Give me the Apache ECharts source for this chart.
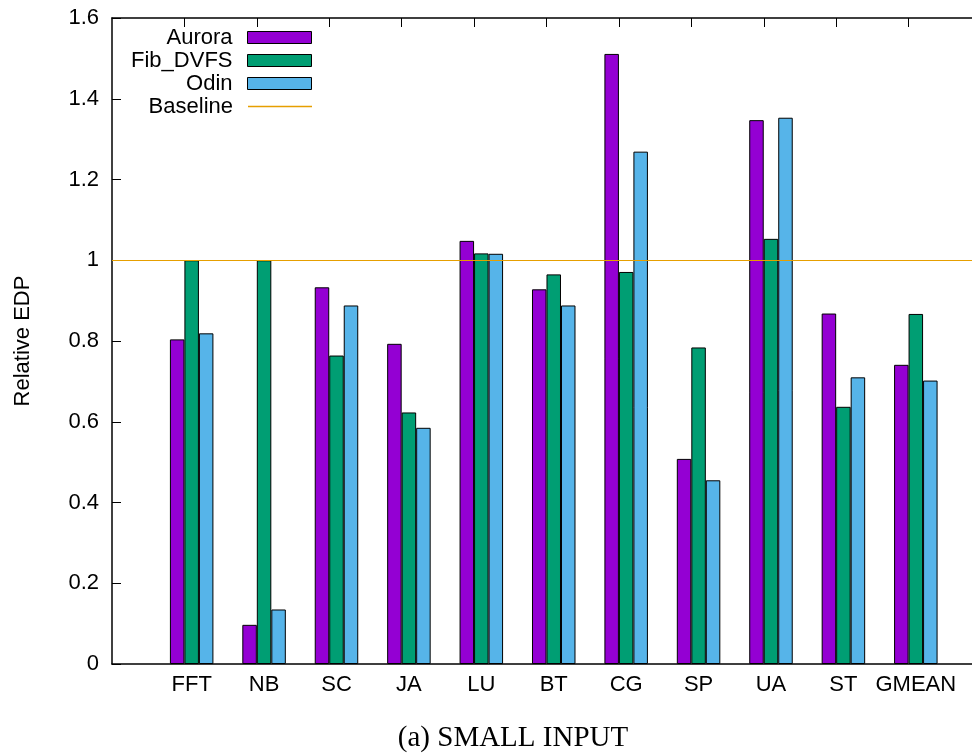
<!DOCTYPE html>
<html>
<head>
<meta charset="utf-8">
<script src="https://cdn.jsdelivr.net/npm/echarts@6/dist/echarts.min.js"></script>
<style>
html,body{margin:0;padding:0;background:#fff;}
#chart{width:972px;height:755px;}
</style>
</head>
<body>
<div id="chart"></div>
<script>
const categories = ['FFT', 'NB', 'SC', 'JA', 'LU', 'BT', 'CG', 'SP', 'UA', 'ST', 'GMEAN'];
const aurora   = [0.804, 0.097, 0.933, 0.793, 1.048, 0.928, 1.511, 0.508, 1.347, 0.868, 0.741];
const fibDvfs  = [1.000, 1.000, 0.764, 0.623, 1.017, 0.965, 0.971, 0.784, 1.053, 0.637, 0.867];
const odin     = [0.819, 0.135, 0.888, 0.585, 1.016, 0.888, 1.269, 0.455, 1.353, 0.710, 0.702];
const baselineValue = 1;
const yTicks = [0, 0.2, 0.4, 0.6, 0.8, 1, 1.2, 1.4, 1.6];

const FONT = '"Liberation Sans", Arial, Helvetica, sans-serif';
const catIdx = categories.map((c, i) => i);
const tickPos = categories.map((c, i) => i - 0.1);
const toPairs = arr => arr.map((v, i) => [i, v]);

const chart = echarts.init(document.getElementById('chart'), null, {renderer: 'canvas'});

const barBase = {
  type: 'bar',
  xAxisIndex: 0,
  yAxisIndex: 0,
  barWidth: 14.5,
  barGap: '0%'
};

function legendFor(name, top, isLine) {
  return {
    data: [name],
    right: 660,
    top: top,
    orient: 'vertical',
    align: 'right',
    padding: 0,
    icon: 'rect',
    itemWidth: 64,
    itemHeight: isLine ? 1.6 : 12,
    selectedMode: false,
    textStyle: {fontFamily: FONT, fontSize: 22, color: '#000', padding: [0, 10, 0, 0], lineHeight: 22},
    itemStyle: isLine ? {color: '#e69f00', borderWidth: 0} : {borderColor: '#000', borderWidth: 1}
  };
}

const option = {
  animation: false,
  backgroundColor: '#fff',
  title: {
    text: '(a) SMALL INPUT',
    left: 508,
    top: 719,
    textAlign: 'center',
    textStyle: {fontFamily: '"Liberation Serif", "Times New Roman", serif', fontSize: 29, fontWeight: 'normal', color: '#000'}
  },
  legend: [
    legendFor('Aurora', 26.5, false),
    legendFor('Fib_DVFS', 49.5, false),
    legendFor('Odin', 72.5, false),
    legendFor('Baseline', 95.5, true)
  ],
  grid: {left: 112, top: 18, width: 869, height: 646, containLabel: false, outerBoundsMode: 'none'},
  xAxis: [
    {
      type: 'value',
      position: 'bottom',
      min: -1.1,
      max: 10.9,
      axisLine: {show: true, onZero: false, lineStyle: {color: '#000', width: 1.5}},
      axisTick: {show: false},
      splitLine: {show: false},
      axisLabel: {
        customValues: catIdx,
        formatter: v => categories[Math.round(v)] || '',
        fontFamily: FONT, fontSize: 22, color: '#000', margin: 10
      }
    },
    {
      type: 'value',
      position: 'top',
      min: -1.1,
      max: 10.9,
      axisLine: {show: true, onZero: false, lineStyle: {color: '#000', width: 1.5}},
      axisTick: {show: true, inside: true, length: 9, customValues: tickPos, lineStyle: {color: '#000', width: 1}},
      axisLabel: {show: false},
      splitLine: {show: false}
    }
  ],
  yAxis: {
    type: 'value',
    position: 'left',
    min: yTicks[0],
    max: yTicks[yTicks.length - 1],
    interval: 0.2,
    name: 'Relative EDP',
    nameLocation: 'middle',
    nameGap: 78,
    nameTextStyle: {fontFamily: FONT, fontSize: 22, color: '#000'},
    axisLine: {show: true, onZero: false, lineStyle: {color: '#000', width: 1.5}},
    axisTick: {show: true, inside: true, length: 9, lineStyle: {color: '#000', width: 1}},
    axisLabel: {fontFamily: FONT, fontSize: 22, color: '#000', margin: 13},
    splitLine: {show: false}
  },
  series: [
    Object.assign({}, barBase, {name: 'Aurora', data: toPairs(aurora), itemStyle: {color: '#9400d3', borderColor: '#000', borderWidth: 1}}),
    Object.assign({}, barBase, {name: 'Fib_DVFS', data: toPairs(fibDvfs), itemStyle: {color: '#009e73', borderColor: '#000', borderWidth: 1}}),
    Object.assign({}, barBase, {name: 'Odin', data: toPairs(odin), itemStyle: {color: '#56b4e9', borderColor: '#000', borderWidth: 1}}),
    {
      type: 'line',
      name: 'Baseline',
      xAxisIndex: 0,
      yAxisIndex: 0,
      data: [],
      symbol: 'none',
      color: '#e69f00',
      lineStyle: {color: '#e69f00', width: 1.5},
      z: 10,
      markLine: {
        silent: true,
        symbol: 'none',
        label: {show: false},
        lineStyle: {color: '#e69f00', width: 1.2, type: 'solid'},
        data: [{yAxis: baselineValue}]
      }
    }
  ]
};
chart.setOption(option);
</script>
</body>
</html>
